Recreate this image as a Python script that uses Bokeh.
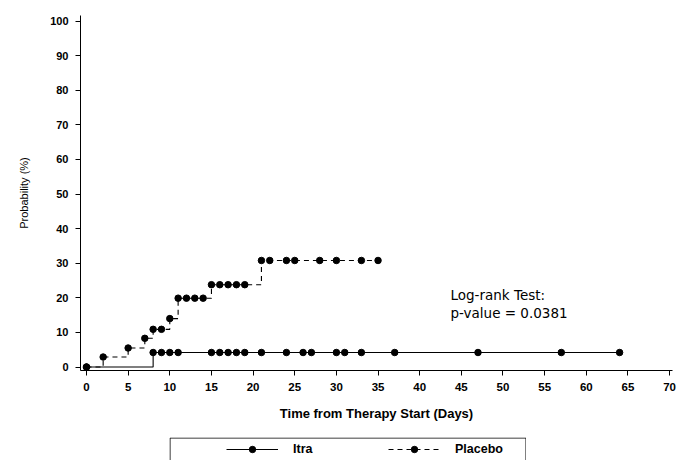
from bokeh.plotting import figure
from bokeh.models import (Range1d, FixedTicker, Label, Legend, LegendItem,
                          BoxAnnotation, Spacer)
from bokeh.layouts import column, row
from bokeh.embed import file_html
from bokeh.resources import INLINE

# ---- data ----
itra_days = [0, 8, 9, 10, 11, 15, 16, 17, 18, 19, 21, 24, 26, 27, 30, 31, 33, 37, 47, 57, 64]
itra_prob = [0, 4.2, 4.2, 4.2, 4.2, 4.2, 4.2, 4.2, 4.2, 4.2, 4.2, 4.2, 4.2, 4.2, 4.2, 4.2, 4.2,
             4.2, 4.2, 4.2, 4.2]
placebo_days = [0, 2, 5, 7, 8, 9, 10, 11, 12, 13, 14, 15, 16, 17, 18, 19, 21, 22, 24, 25, 28,
                30, 33, 35]
placebo_prob = [0, 2.9, 5.5, 8.3, 10.9, 10.9, 14.0, 19.9, 19.9, 19.9, 19.9, 23.8, 23.8, 23.8,
                23.8, 23.8, 30.8, 30.8, 30.8, 30.8, 30.8, 30.8, 30.8, 30.8]
x_ticks = [0, 5, 10, 15, 20, 25, 30, 35, 40, 45, 50, 55, 60, 65, 70]
y_ticks = [0, 10, 20, 30, 40, 50, 60, 70, 80, 90, 100]
series_names = ["Itra", "Placebo"]
test_lines = ["Log-rank Test:", "p-value = 0.0381"]

TICK_FONT = "Liberation Sans"
DASH = "5 4"

p = figure(width=677, height=437, x_range=Range1d(-0.72, 70.35),
           y_range=Range1d(-1.0, 101.6), output_backend="svg", toolbar_location=None,
           min_border_left=80, min_border_right=5, min_border_top=15,
           min_border_bottom=67)
p.grid.visible = False
p.outline_line_color = None
p.background_fill_color = "white"

# Itra (solid)
p.step(itra_days, itra_prob, mode="after", line_color="black", line_width=1.1)
p.scatter(itra_days, itra_prob, size=6.5, color="black")
# Placebo (dashed)
p.step(placebo_days, placebo_prob, mode="after", line_color="black", line_width=1.1,
       line_dash=DASH)
p.scatter(placebo_days, placebo_prob, size=6.5, color="black")

for ax in (p.xaxis[0], p.yaxis[0]):
    ax.axis_line_color = "black"
    ax.axis_line_width = 1
    ax.major_tick_line_color = "black"
    ax.major_tick_in = 0
    ax.major_tick_out = 5
    ax.minor_tick_line_color = None
    ax.major_label_text_font = TICK_FONT
    ax.major_label_text_font_style = "bold"
    ax.major_label_text_color = "black"

p.xaxis.ticker = FixedTicker(ticks=x_ticks)
p.yaxis.ticker = FixedTicker(ticks=y_ticks)
p.xaxis.major_label_text_font_size = "11.5px"
p.yaxis.major_label_text_font_size = "11px"
p.xaxis.major_label_standoff = 7
p.yaxis.major_label_standoff = 7

p.xaxis.axis_label = "Time from Therapy Start (Days)"
p.xaxis.axis_label_text_font = TICK_FONT
p.xaxis.axis_label_text_font_style = "bold"
p.xaxis.axis_label_text_font_size = "13px"
p.xaxis.axis_label_text_color = "black"
p.xaxis.axis_label_standoff = 12

p.yaxis.axis_label = "Probability (%)"
p.yaxis.axis_label_text_font = TICK_FONT
p.yaxis.axis_label_text_font_style = "normal"
p.yaxis.axis_label_text_font_size = "11px"
p.yaxis.axis_label_text_color = "black"
p.yaxis.axis_label_standoff = 17

p.add_layout(Label(x=43.7, y=20.7, text=test_lines[0], text_baseline="middle",
                   text_font="DejaVu Sans", text_font_size="13.5px", text_color="black"))
p.add_layout(Label(x=43.7, y=15.5, text=test_lines[1], text_baseline="middle",
                   text_font="DejaVu Sans", text_font_size="13.5px", text_color="black"))

# ---- legend strip: series drawn again but kept out of this strip's view ----
lf = figure(width=357, height=23, x_range=Range1d(-1000, -643), y_range=Range1d(-1000, -977),
            min_border=0, toolbar_location=None, output_backend="svg",
            x_axis_location=None, y_axis_location=None)
lf.grid.visible = False
lf.outline_line_color = None
l1l = lf.step(itra_days, itra_prob, mode="after", line_color="black", line_width=1.1)
l1s = lf.scatter(itra_days, itra_prob, size=6.5, color="black")
l2l = lf.step(placebo_days, placebo_prob, mode="after", line_color="black", line_width=1.1,
              line_dash=DASH)
l2s = lf.scatter(placebo_days, placebo_prob, size=6.5, color="black")
lf.add_layout(BoxAnnotation(left=0.5, right=356.5, top=0.5, bottom=60,
                            left_units="canvas", right_units="canvas",
                            top_units="canvas", bottom_units="canvas",
                            fill_alpha=0, line_color="black", line_width=1,
                            line_alpha=1))
legend = Legend(items=[LegendItem(label=series_names[0], renderers=[l1l, l1s]),
                       LegendItem(label=series_names[1], renderers=[l2l, l2s])],
                orientation="horizontal", location=(57, 3), padding=0, margin=0,
                border_line_color=None, background_fill_alpha=0,
                glyph_width=52, glyph_height=16, label_height=16, label_width=80,
                label_standoff=15, spacing=15,
                label_text_font=TICK_FONT, label_text_font_style="bold",
                label_text_font_size="12.5px", label_text_color="black")
lf.add_layout(legend)

layout = column(p, row(Spacer(width=169, height=23), lf))

open("out.html", "w").write(file_html(layout, INLINE))
